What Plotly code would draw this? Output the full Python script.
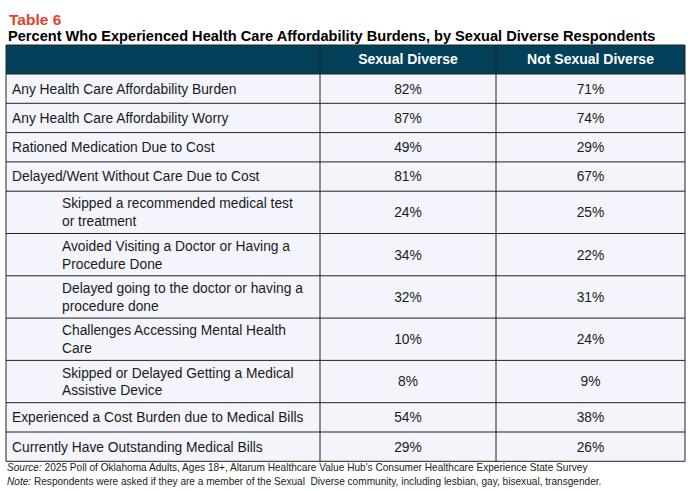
import plotly.graph_objects as go

# Table data
measures = [
    "Any Health Care Affordability Burden",
    "Any Health Care Affordability Worry",
    "Rationed Medication Due to Cost",
    "Delayed/Went Without Care Due to Cost",
    "Skipped a recommended medical test<br>or treatment",
    "Avoided Visiting a Doctor or Having a<br>Procedure Done",
    "Delayed going to the doctor or having a<br>procedure done",
    "Challenges Accessing Mental Health<br>Care",
    "Skipped or Delayed Getting a Medical<br>Assistive Device",
    "Experienced a Cost Burden due to Medical Bills",
    "Currently Have Outstanding Medical Bills",
]
sub_item = [False, False, False, False, True, True, True, True, True, False, False]
sexual_diverse = [82, 87, 49, 81, 24, 34, 32, 10, 8, 54, 29]
not_sexual_diverse = [71, 74, 29, 67, 25, 22, 31, 24, 9, 38, 26]
headers = ["Sexual Diverse", "Not Sexual Diverse"]

W, H = 693, 491
BODY = "Liberation Sans, Arial, sans-serif"
LINE = "#222222"

# table geometry (pixels)
col_edges = [6, 320, 496, 685]
head_top, head_bot = 45, 74
single_h, double_h = 29.3, 42.3

row_edges = [head_bot]
for m in measures:
    row_edges.append(row_edges[-1] + (double_h if "<br>" in m else single_h))
# text sits a touch below the geometric middle
row_mid = [(a + b) / 2 + 1.5 for a, b in zip(row_edges[:-1], row_edges[1:])]
col_mid = [(col_edges[i] + col_edges[i + 1]) / 2 for i in range(3)]

fig = go.Figure()

# fills
fig.add_shape(type="rect", x0=col_edges[0], x1=col_edges[-1], y0=head_top, y1=head_bot,
              fillcolor="#03405A", line_width=0, layer="below")
fig.add_shape(type="rect", x0=col_edges[0], x1=col_edges[-1], y0=head_bot, y1=row_edges[-1],
              fillcolor="#F4F5FC", line_width=0, layer="below")
# grid lines
for y in [head_top] + row_edges:
    fig.add_shape(type="line", x0=col_edges[0], x1=col_edges[-1], y0=y, y1=y,
                  line=dict(color=LINE, width=1))
for x in col_edges:
    fig.add_shape(type="line", x0=x, x1=x, y0=head_top, y1=row_edges[-1],
                  line=dict(color=LINE, width=1))

# header text
fig.add_trace(go.Scatter(
    x=col_mid[1:], y=[(head_top + head_bot) / 2 + 1] * 2, mode="text",
    text=[f"<b>{h}</b>" for h in headers], textposition="middle center",
    textfont=dict(family=BODY, size=14, color="white"), hoverinfo="skip"))

# row labels
fig.add_trace(go.Scatter(
    x=[62 if s else 12 for s in sub_item], y=row_mid, mode="text",
    text=measures, textposition="middle right",
    textfont=dict(family=BODY, size=13.8, color="#1a1a1a"), hoverinfo="skip"))

# values
fig.add_trace(go.Scatter(
    x=[col_mid[1]] * len(measures), y=row_mid, mode="text",
    text=[f"{v}%" for v in sexual_diverse], textposition="middle center",
    textfont=dict(family=BODY, size=13.8, color="#1a1a1a"), hoverinfo="skip"))
fig.add_trace(go.Scatter(
    x=[col_mid[2]] * len(measures), y=row_mid, mode="text",
    text=[f"{v}%" for v in not_sexual_diverse], textposition="middle center",
    textfont=dict(family=BODY, size=13.8, color="#1a1a1a"), hoverinfo="skip"))

fig.add_annotation(text="<b>Table 6</b>", x=7, y=19, xanchor="left", yanchor="middle",
                   showarrow=False, font=dict(family=BODY, size=15.5, color="#E4412C"))
fig.add_annotation(text="<b>Percent Who Experienced Health Care Affordability Burdens, by Sexual Diverse Respondents</b>",
                   x=6, y=36, xanchor="left", yanchor="middle", showarrow=False,
                   font=dict(family=BODY, size=14.6, color="black"))
fig.add_annotation(text="<i>Source:</i> 2025 Poll of Oklahoma Adults, Ages 18+, Altarum Healthcare Value Hub's Consumer Healthcare Experience State Survey",
                   x=5, y=467, xanchor="left", yanchor="middle", showarrow=False,
                   font=dict(family=BODY, size=10.1, color="#222"))
fig.add_annotation(text="<i>Note:</i> Respondents were asked if they are a member of the Sexual  Diverse community, including lesbian, gay, bisexual, transgender.",
                   x=5, y=481, xanchor="left", yanchor="middle", showarrow=False,
                   font=dict(family=BODY, size=10.1, color="#222"))

fig.update_layout(width=W, height=H, margin=dict(l=0, r=0, t=0, b=0),
                  paper_bgcolor="white", plot_bgcolor="white", showlegend=False,
                  xaxis=dict(range=[0, W], visible=False, fixedrange=True),
                  yaxis=dict(range=[H, 0], visible=False, fixedrange=True))

fig.write_html("out.html", config={"displayModeBar": False},
               post_script="document.body.style.margin='0px';")
